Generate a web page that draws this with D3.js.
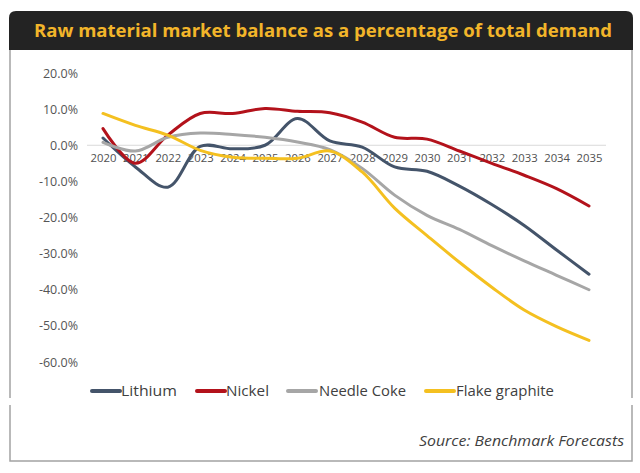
<!DOCTYPE html>
<html>
<head>
<meta charset="utf-8">
<script src="https://cdn.jsdelivr.net/npm/d3@7"></script>
<style>
  html, body { margin: 0; padding: 0; background: #fff; }
  svg { display: block; }
  text { font-family: "Open Sans", "DejaVu Sans", sans-serif; }
</style>
</head>
<body>
<svg id="chart" width="640" height="473"></svg>
<script>
const years = ["2020","2021","2022","2023","2024","2025","2026","2027","2028","2029","2030","2031","2032","2033","2034","2035"];
const lithium = [2, -6, -11.6, -0.3, -1, 0, 7.4, 1.2, -0.5, -6, -7.2, -11.3, -16.4, -22.2, -29, -35.7];
const nickel = [4.6, -5, 2.8, 8.8, 8.8, 10.2, 9.4, 9, 6.4, 2.2, 1.7, -1.6, -5, -8.3, -12, -16.8];
const needleCoke = [0.8, -1.6, 2.2, 3.4, 3, 2.2, 0.9, -1.2, -6.4, -13.8, -19.4, -23.3, -27.8, -32, -36, -40];
const flakeGraphite = [8.8, 5.5, 2.8, -1.4, -3.3, -3.6, -3.6, -1.6, -7.4, -17.4, -25, -32.4, -39.3, -45.6, -50.2, -54];
const yTicks = [20, 10, 0, -10, -20, -30, -40, -50, -60];
const seriesNames = ["Lithium", "Nickel", "Needle Coke", "Flake graphite"];
const seriesColors = ["#44546a", "#b3121b", "#a6a6a6", "#f4c020"];
const titleText = "Raw material market balance as a percentage of total demand";
const sourceText = "Source: Benchmark Forecasts";

const seriesData = [lithium, nickel, needleCoke, flakeGraphite];
const svg = d3.select("#chart");
const locale = d3.formatLocale({ decimal: ".", thousands: ",", grouping: [3], currency: ["", ""], minus: "-" });
const fmt = locale.format(".1f");

// Frame
svg.append("path")
  .attr("d", "M10,50 L10,398 M10,405 L10,461 L632,461 L632,405 M632,398 L632,50")
  .attr("fill", "none").attr("stroke", "#a3a3a3").attr("stroke-width", 1.5);

// Title bar
const bx = 9, bw = 624, by = 11, bh = 39, r = 7;
svg.append("path")
  .attr("d", `M${bx},${by+bh} L${bx},${by+r} Q${bx},${by} ${bx+r},${by} L${bx+bw-r},${by} Q${bx+bw},${by} ${bx+bw},${by+r} L${bx+bw},${by+bh} Z`)
  .attr("fill", "#232323");
svg.append("text")
  .attr("x", 323).attr("y", 36.5)
  .attr("text-anchor", "middle")
  .attr("font-size", 17).attr("font-weight", 700)
  .attr("fill", "#f2b52a")
  .attr("textLength", 578).attr("lengthAdjust", "spacingAndGlyphs")
  .text(titleText);

// Scales
const x = d3.scalePoint().domain(years).range([103, 589]);
const y = d3.scaleLinear().domain([-60, 20]).range([362, 73]);

// Zero line
svg.append("line")
  .attr("x1", 87).attr("x2", 606)
  .attr("y1", y(0)).attr("y2", y(0))
  .attr("stroke", "#d9d9d9").attr("stroke-width", 1);

// Y axis labels
const yAxis = d3.axisLeft(y).tickValues(yTicks).tickSize(0).tickPadding(0)
  .tickFormat(d => fmt(d) + "%");
const gy = svg.append("g").attr("transform", "translate(78,0)").call(yAxis);
gy.select(".domain").remove();
gy.selectAll("text").attr("font-size", 12.5).attr("fill", "#555555")
  .attr("font-family", "'Open Sans', sans-serif");

// X axis labels
const xAxis = d3.axisBottom(x).tickSize(0).tickPadding(0);
const gx = svg.append("g").attr("transform", `translate(0,${y(0) + 9})`).call(xAxis);
gx.select(".domain").remove();
gx.selectAll("text").attr("font-size", 11.3).attr("fill", "#505050")
  .attr("font-family", "'Open Sans', sans-serif");

// Lines
const line = d3.line()
  .x((d, i) => x(years[i]))
  .y(d => y(d))
  .curve(d3.curveCatmullRom.alpha(0.5));

seriesData.forEach((s, k) => {
  svg.append("path")
    .datum(s)
    .attr("d", line)
    .attr("fill", "none")
    .attr("stroke", seriesColors[k])
    .attr("stroke-width", 3)
    .attr("stroke-linecap", "round")
    .attr("stroke-linejoin", "round");
});

// Legend
const legendPos = [
  { lx: 92, tx: 121, tw: 56 },
  { lx: 197, tx: 226, tw: 43 },
  { lx: 288, tx: 319, tw: 87 },
  { lx: 426, tx: 456, tw: 98 }
];
const ly = 391;
seriesNames.forEach((name, k) => {
  const p = legendPos[k];
  svg.append("line")
    .attr("x1", p.lx).attr("x2", p.lx + 28)
    .attr("y1", ly).attr("y2", ly)
    .attr("stroke", seriesColors[k]).attr("stroke-width", 4)
    .attr("stroke-linecap", "round");
  svg.append("text")
    .attr("x", p.tx).attr("y", ly + 5)
    .attr("font-size", 14).attr("fill", "#404040")
    .attr("textLength", p.tw).attr("lengthAdjust", "spacingAndGlyphs")
    .text(name);
});

// Source
svg.append("text")
  .attr("x", 624).attr("y", 446)
  .attr("text-anchor", "end")
  .attr("font-size", 14).attr("font-style", "italic")
  .attr("fill", "#404040")
  .attr("textLength", 205).attr("lengthAdjust", "spacingAndGlyphs")
  .text(sourceText);
</script>
</body>
</html>
